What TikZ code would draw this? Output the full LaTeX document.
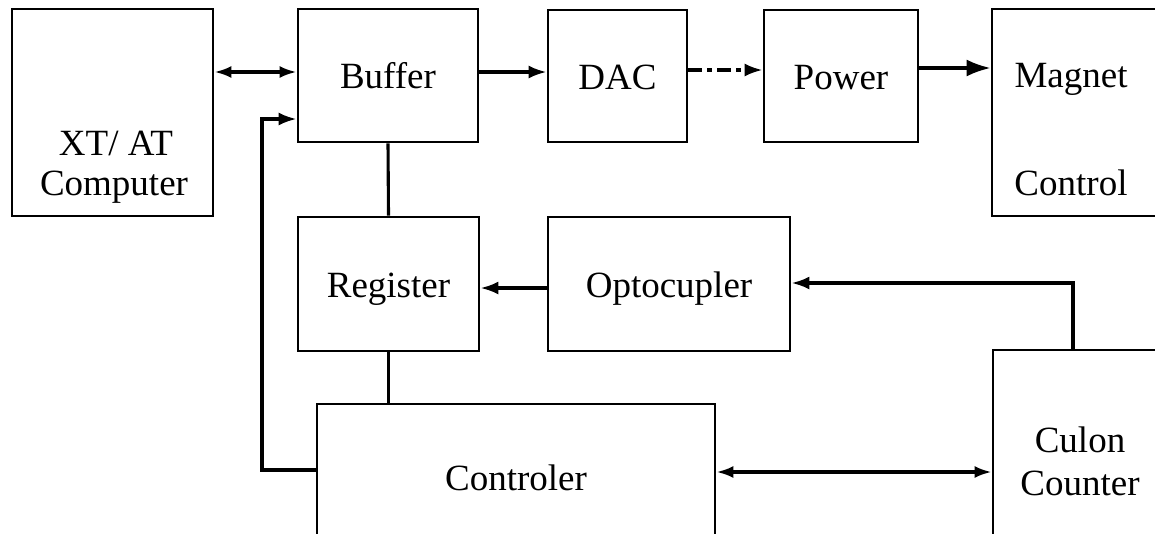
\documentclass[tikz,border=0pt]{standalone}
\usepackage{fontspec}
\setmainfont{Liberation Serif}
\usetikzlibrary{arrows.meta}

\tikzset{
  txt/.style={font=\fontsize{37pt}{40pt}\selectfont, inner sep=0pt},
  box/.style={draw, line width=2.8pt, rectangle, inner sep=0pt, txt,
              text height=26pt, text depth=0pt},
  lbl/.style={txt, anchor=base},
  wire/.style={line width=3.1pt},
  arr/.style={wire, -{Latex[length=18pt,width=13pt]}},
  bigarr/.style={wire, -{Latex[length=24pt,width=17pt]}},
  dbl/.style={wire, {Latex[length=17pt,width=12pt]}-{Latex[length=17pt,width=12pt]}},
}

\begin{document}
\begin{tikzpicture}[x=1pt,y=-1pt]
  \useasboundingbox (0,0) rectangle (1155,533);
  \clip (0,0) rectangle (1155,533);

  % blocks
  \node[box, minimum width=201pt, minimum height=207pt] (xt)  at (112.5,112.5) {};
  \node[box, minimum width=180pt, minimum height=133pt] (buf) at (388,75.5) {Buffer};
  \node[box, minimum width=139pt, minimum height=132pt] (dac) at (617.5,76) {DAC};
  \node[box, minimum width=154pt, minimum height=132pt] (pow) at (841,76) {Power};
  \node[box, minimum width=183pt, minimum height=207pt] (mag) at (1083.5,112.5) {};
  \node[box, minimum width=181pt, minimum height=134pt] (reg) at (388.5,284) {Register};
  \node[box, minimum width=242pt, minimum height=134pt] (opt) at (669,284) {Optocupler};
  \node[box, minimum width=398pt, minimum height=146pt] (ctl) at (516,477) {Controler};
  \node[box, minimum width=182pt, minimum height=200pt] (cul) at (1084,450) {};

  % two-line captions
  \node[lbl] (xt1)  at (116,155) {XT/ AT};
  \node[lbl] (xt2)  at (114,195) {Computer};
  \node[lbl] (mag1) at (1071,87)  {Magnet};
  \node[lbl] (mag2) at (1071,195) {Control};
  \node[lbl] (cul1) at (1080,452) {Culon};
  \node[lbl] (cul2) at (1080,495) {Counter};

  % data path along the top row
  \draw[dbl] (xt.east |- 0,72) -- (buf.west |- 0,72);
  \draw[arr] (buf.east |- 0,72) -- (dac.west |- 0,72);
  \draw[arr, dash pattern=on 14pt off 5pt on 5pt off 5pt] (dac.east |- 0,70) -- (pow.west |- 0,70);
  \draw[bigarr] (pow.east |- 0,68) -- (mag.west |- 0,68);

  % vertical links through the register
  \draw[wire] (buf.south) -- (reg.north);
  \draw[wire] (reg.south) -- (reg.south |- ctl.north);

  % feedback paths
  \draw[arr] (opt.west |- 0,288) -- (reg.east |- 0,288);
  \draw[arr] (cul.north -| 1073,0) |- (opt.east |- 0,283);
  \draw[arr] (ctl.west |- 0,470) -| (262,119) -- (buf.west |- 0,119);
  \draw[dbl] (ctl.east |- 0,472) -- (cul.west |- 0,472);
\end{tikzpicture}
\end{document}
